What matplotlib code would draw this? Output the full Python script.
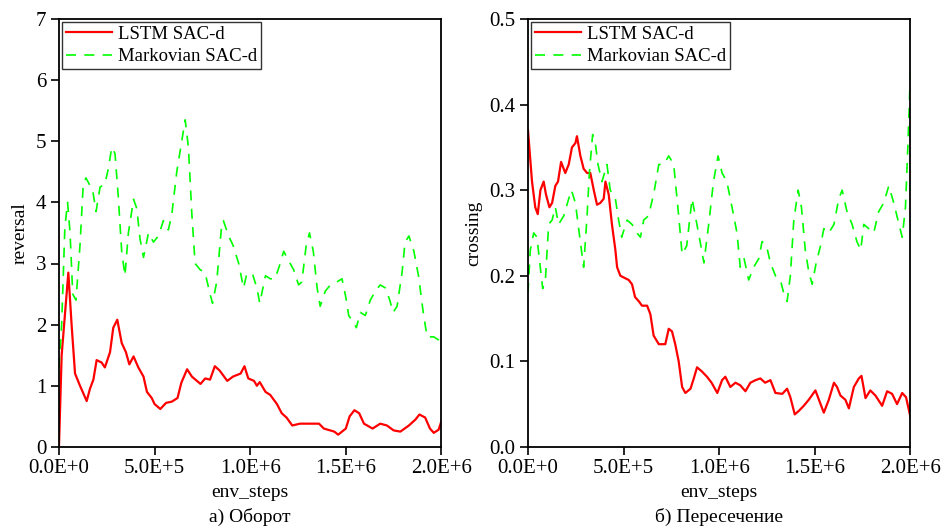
"""Reversal and crossing counts for LSTM vs Markovian SAC-d."""

import matplotlib
matplotlib.use("Agg")
import matplotlib.pyplot as plt

plt.rcParams['font.family'] = ['Liberation Serif', 'DejaVu Serif']
plt.rcParams['font.size'] = 14

# --- reversal (left panel) ---
rev_lstm_x = [0, 1.4e4, 4.9e4, 6.6e4, 8.4e4, 1.1e5, 1.45e5, 1.62e5, 1.8e5, 1.97e5,
              2.23e5, 2.4e5, 2.67e5, 2.84e5, 3.05e5, 3.28e5, 3.5e5, 3.68e5, 3.9e5,
              4.15e5, 4.42e5, 4.6e5, 4.85e5, 5.0e5, 5.3e5, 5.6e5, 5.9e5, 6.2e5,
              6.4e5, 6.7e5, 6.95e5, 7.4e5, 7.65e5, 7.9e5, 8.15e5, 8.4e5, 8.8e5,
              9.1e5, 9.5e5, 9.7e5, 9.9e5, 1.02e6, 1.035e6, 1.05e6, 1.08e6, 1.105e6,
              1.14e6, 1.165e6, 1.19e6, 1.22e6, 1.26e6, 1.31e6, 1.36e6, 1.385e6,
              1.44e6, 1.46e6, 1.5e6, 1.52e6, 1.545e6, 1.57e6, 1.595e6, 1.64e6,
              1.68e6, 1.715e6, 1.75e6, 1.785e6, 1.83e6, 1.865e6, 1.885e6, 1.915e6,
              1.94e6, 1.96e6, 1.985e6, 2.0e6]
rev_lstm = [0.0, 1.5, 2.85, 2.0, 1.2, 1.0, 0.75, 0.95, 1.1, 1.42,
            1.38, 1.3, 1.55, 1.95, 2.08, 1.7, 1.55, 1.35, 1.48,
            1.3, 1.15, 0.9, 0.8, 0.7, 0.62, 0.72, 0.74, 0.8,
            1.05, 1.27, 1.15, 1.03, 1.12, 1.1, 1.32, 1.25, 1.08,
            1.15, 1.2, 1.32, 1.12, 1.08, 1.0, 1.06, 0.9, 0.85,
            0.7, 0.55, 0.48, 0.35, 0.38, 0.38, 0.38, 0.3,
            0.25, 0.2, 0.3, 0.5, 0.6, 0.55, 0.38, 0.3,
            0.38, 0.35, 0.27, 0.25, 0.35, 0.45, 0.53, 0.48,
            0.3, 0.23, 0.28, 0.42]

rev_markov_x = [0, 1.4e4, 3.1e4, 4.5e4, 5.8e4, 7.2e4, 8.9e4, 1.1e5, 1.27e5, 1.41e5,
                1.58e5, 1.76e5, 1.94e5, 2.15e5, 2.4e5, 2.58e5, 2.76e5, 2.93e5, 3.1e5,
                3.28e5, 3.45e5, 3.63e5, 3.9e5, 4.07e5, 4.24e5, 4.42e5, 4.68e5, 4.94e5,
                5.2e5, 5.46e5, 5.72e5, 5.9e5, 6.16e5, 6.42e5, 6.6e5, 6.77e5, 6.95e5,
                7.12e5, 7.38e5, 7.64e5, 7.9e5, 8.03e5, 8.25e5, 8.5e5, 8.6e5, 8.87e5,
                9.1e5, 9.4e5, 9.65e5, 9.8e5, 1.01e6, 1.035e6, 1.05e6, 1.08e6, 1.105e6,
                1.13e6, 1.157e6, 1.175e6, 1.2e6, 1.227e6, 1.253e6, 1.27e6, 1.293e6,
                1.31e6, 1.33e6, 1.35e6, 1.366e6, 1.393e6, 1.42e6, 1.454e6, 1.48e6,
                1.5e6, 1.515e6, 1.538e6, 1.555e6, 1.576e6, 1.602e6, 1.628e6, 1.655e6,
                1.68e6, 1.707e6, 1.73e6, 1.747e6, 1.768e6, 1.794e6, 1.81e6, 1.83e6,
                1.856e6, 1.88e6, 1.905e6, 1.925e6, 1.96e6, 1.985e6, 2.0e6]
rev_markov = [1.3, 2.0, 3.6, 4.0, 3.5, 2.5, 2.4, 3.3, 4.3, 4.4,
              4.3, 4.2, 3.85, 4.25, 4.3, 4.55, 4.9, 4.8, 4.1,
              3.2, 2.8, 3.5, 4.05, 3.9, 3.4, 3.1, 3.5, 3.35,
              3.45, 3.7, 3.55, 3.8, 4.5, 5.0, 5.35, 4.9, 3.8,
              3.0, 2.9, 2.85, 2.5, 2.35, 2.7, 3.6, 3.7, 3.45,
              3.3, 3.0, 2.6, 2.8, 2.85, 2.6, 2.35, 2.8, 2.75,
              2.75, 3.0, 3.2, 3.05, 2.9, 2.65, 2.7, 3.3,
              3.5, 3.2, 2.6, 2.3, 2.55, 2.65, 2.7, 2.75,
              2.45, 2.15, 2.05, 1.95, 2.2, 2.15, 2.4, 2.55,
              2.65, 2.6, 2.4, 2.2, 2.3, 2.85, 3.35, 3.45,
              3.2, 2.8, 2.2, 1.8, 1.8, 1.75, 1.7]

# --- crossing (right panel) ---
cross_lstm_x = [0, 2.1e4, 3.8e4, 5.1e4, 6.5e4, 8.2e4, 9.4e4, 1.12e5, 1.26e5, 1.43e5,
                1.57e5, 1.73e5, 1.95e5, 2.13e5, 2.3e5, 2.48e5, 2.56e5, 2.74e5, 2.91e5,
                3.09e5, 3.26e5, 3.44e5, 3.61e5, 3.78e5, 3.96e5, 4.05e5, 4.22e5, 4.39e5,
                4.57e5, 4.66e5, 4.83e5, 5.0e5, 5.27e5, 5.44e5, 5.6e5, 5.8e5, 5.96e5,
                6.23e5, 6.4e5, 6.57e5, 6.84e5, 7.0e5, 7.18e5, 7.36e5, 7.53e5, 7.7e5,
                7.88e5, 8.06e5, 8.23e5, 8.5e5, 8.67e5, 8.84e5, 9.1e5, 9.36e5, 9.6e5,
                9.9e5, 1.015e6, 1.032e6, 1.058e6, 1.085e6, 1.11e6, 1.137e6, 1.163e6,
                1.19e6, 1.215e6, 1.24e6, 1.268e6, 1.294e6, 1.33e6, 1.355e6, 1.372e6,
                1.395e6, 1.416e6, 1.442e6, 1.468e6, 1.503e6, 1.53e6, 1.547e6, 1.573e6,
                1.6e6, 1.616e6, 1.634e6, 1.66e6, 1.678e6, 1.704e6, 1.73e6, 1.744e6,
                1.765e6, 1.79e6, 1.817e6, 1.852e6, 1.878e6, 1.904e6, 1.93e6, 1.957e6,
                1.977e6, 2.0e6]
cross_lstm = [0.37, 0.31, 0.28, 0.272, 0.30, 0.31, 0.295, 0.28, 0.285, 0.305,
              0.31, 0.333, 0.32, 0.33, 0.35, 0.355, 0.363, 0.34, 0.325,
              0.32, 0.32, 0.30, 0.283, 0.285, 0.29, 0.31, 0.295, 0.26,
              0.23, 0.21, 0.20, 0.198, 0.195, 0.19, 0.175, 0.17, 0.165,
              0.165, 0.155, 0.13, 0.12, 0.12, 0.12, 0.138, 0.135, 0.12,
              0.10, 0.07, 0.063, 0.068, 0.08, 0.093, 0.088, 0.082, 0.075,
              0.063, 0.078, 0.082, 0.07, 0.075, 0.072, 0.065, 0.075,
              0.078, 0.08, 0.075, 0.078, 0.063, 0.062, 0.068, 0.058,
              0.038, 0.042, 0.048, 0.055, 0.066, 0.05, 0.04, 0.055,
              0.075, 0.07, 0.06, 0.055, 0.045, 0.07, 0.08, 0.083,
              0.057, 0.066, 0.06, 0.048, 0.065, 0.062, 0.05, 0.063,
              0.058, 0.035]

cross_markov_x = [0, 1.2e4, 3.0e4, 4.7e4, 5.9e4, 7.7e4, 9.1e4, 1.08e5, 1.26e5, 1.43e5,
                  1.6e5, 1.87e5, 2.13e5, 2.27e5, 2.48e5, 2.65e5, 2.91e5, 3.09e5, 3.21e5,
                  3.38e5, 3.52e5, 3.66e5, 3.87e5, 4.13e5, 4.3e5, 4.57e5, 4.74e5, 4.9e5,
                  5.18e5, 5.44e5, 5.7e5, 5.88e5, 6.05e5, 6.3e5, 6.57e5, 6.84e5, 7.1e5,
                  7.36e5, 7.62e5, 7.88e5, 8.06e5, 8.3e5, 8.58e5, 8.75e5, 9.0e5, 9.2e5,
                  9.45e5, 9.7e5, 9.94e5, 1.015e6, 1.04e6, 1.067e6, 1.093e6, 1.11e6,
                  1.13e6, 1.154e6, 1.18e6, 1.207e6, 1.224e6, 1.247e6, 1.268e6, 1.294e6,
                  1.32e6, 1.337e6, 1.355e6, 1.372e6, 1.39e6, 1.413e6, 1.43e6, 1.45e6,
                  1.468e6, 1.486e6, 1.507e6, 1.53e6, 1.547e6, 1.573e6, 1.6e6, 1.625e6,
                  1.643e6, 1.668e6, 1.695e6, 1.72e6, 1.74e6, 1.756e6, 1.782e6, 1.808e6,
                  1.834e6, 1.86e6, 1.887e6, 1.913e6, 1.94e6, 1.957e6, 1.974e6, 1.988e6,
                  2.0e6]
cross_markov = [0.18, 0.23, 0.25, 0.245, 0.22, 0.185, 0.195, 0.26, 0.265, 0.28,
                0.26, 0.27, 0.29, 0.30, 0.285, 0.255, 0.21, 0.27, 0.32,
                0.365, 0.355, 0.33, 0.31, 0.33, 0.30, 0.29, 0.265, 0.245,
                0.265, 0.26, 0.25, 0.245, 0.265, 0.27, 0.295, 0.33, 0.33,
                0.34, 0.33, 0.27, 0.225, 0.235, 0.29, 0.27, 0.24, 0.215,
                0.26, 0.31, 0.34, 0.32, 0.31, 0.28, 0.25, 0.21,
                0.22, 0.195, 0.21, 0.22, 0.24, 0.235, 0.215, 0.2,
                0.195, 0.18, 0.17, 0.2, 0.265, 0.3, 0.28, 0.23,
                0.205, 0.19, 0.215, 0.235, 0.255, 0.25, 0.26, 0.29,
                0.3, 0.275, 0.26, 0.24, 0.23, 0.26, 0.255, 0.25,
                0.275, 0.285, 0.305, 0.285, 0.26, 0.245, 0.28, 0.36,
                0.44]

x_ticks = [0, 5e5, 1e6, 1.5e6, 2e6]
x_tick_labels = ["0.0E+0", "5.0E+5", "1.0E+6", "1.5E+6", "2.0E+6"]

panels = [
    (rev_lstm_x, rev_lstm, rev_markov_x, rev_markov, "reversal", 7,
     range(0, 8), [str(v) for v in range(0, 8)], "a) Оборот"),
    (cross_lstm_x, cross_lstm, cross_markov_x, cross_markov, "crossing", 0.5,
     [0, 0.1, 0.2, 0.3, 0.4, 0.5], ["0.0", "0.1", "0.2", "0.3", "0.4", "0.5"],
     "б) Пересечение"),
]

fig = plt.figure(figsize=(9.42, 5.27), dpi=100)
lefts = [0.0626, 0.5605]

for left, (lx, ly, mx, my, ylabel, ymax, yt, ytl, caption) in zip(lefts, panels):
    ax = fig.add_axes([left, 0.152, 0.406, 0.812])
    ax.plot(lx, ly, color='#ff0000', lw=1.6, label="LSTM SAC-d")
    ax.plot(mx, my, color='#00ff00', lw=1.2, dashes=(6, 5), label="Markovian SAC-d")
    ax.set_xlim(0, 2e6)
    ax.set_ylim(0, ymax)
    ax.set_xticks(x_ticks)
    ax.set_xticklabels(x_tick_labels)
    ax.set_yticks(yt)
    ax.set_yticklabels(ytl)
    ax.tick_params(direction='out', length=6, width=1.2, top=False, right=False,
                   labelsize=15, pad=3)
    for sp in ax.spines.values():
        sp.set_linewidth(1.3)
    ax.set_ylabel(ylabel, fontsize=14, labelpad=5)
    ax.set_xlabel("env_steps", fontsize=14, labelpad=4)
    ax.text(0.5, -0.1636, caption, transform=ax.transAxes, ha='center', va='center',
            fontsize=14)
    leg = ax.legend(loc='upper left', fontsize=13.5, frameon=True, fancybox=False,
                    borderpad=0.2, borderaxespad=0.15, handlelength=2.5,
                    handletextpad=0.3, labelspacing=0.3)
    leg.get_frame().set_edgecolor('black')
    leg.get_frame().set_linewidth(1.0)

plt.savefig("out.png", dpi=100)
